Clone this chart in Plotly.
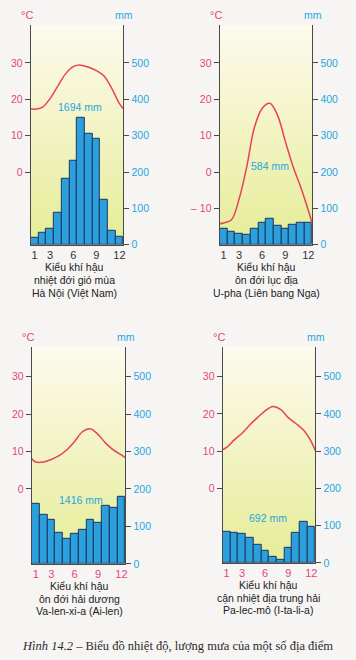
import base64
import plotly.graph_objects as go

# ---------------- data ----------------
months = [1, 2, 3, 4, 5, 6, 7, 8, 9, 10, 11, 12]
month_ticks = [1, 3, 6, 9, 12]

hanoi_rain = [19, 34, 44, 87, 181, 231, 350, 306, 291, 125, 39, 21]
hanoi_temp = [17.3, 17.8, 20.2, 23.6, 27.0, 29.0, 29.4, 28.8, 27.9, 26.4, 23.0, 18.8]
hanoi_temp_edges = [17.4, 17.4]

ufa_rain = [45, 36, 30, 27, 44, 60, 72, 53, 44, 55, 61, 61]
ufa_temp = [-14.0, -13.2, -7.5, 1.4, 12.3, 17.5, 18.9, 15.6, 8.5, 1.6, -4.1, -10.6]
ufa_temp_edges = [-14.2, -14.2]

valentia_rain = [161, 130, 117, 83, 68, 80, 91, 117, 109, 154, 150, 179]
valentia_temp = [7.2, 7.2, 7.9, 8.9, 10.5, 12.7, 15.3, 16.1, 14.6, 12.2, 10.4, 9.1]
valentia_temp_edges = [8.1, 8.4]

palermo_rain = [83, 80, 79, 68, 49, 33, 16, 8, 40, 81, 111, 96]
palermo_temp = [11.0, 13.0, 14.8, 17.0, 19.0, 20.8, 22.0, 21.2, 19.0, 17.4, 15.6, 12.5]
palermo_temp_edges = [10.4, 10.2]

totals = ["1694 mm", "584 mm", "1416 mm", "692 mm"]
captions = [
    ["Kiểu khí hậu", "nhiệt đới gió mùa", "Hà Nội (Việt Nam)"],
    ["Kiểu khí hậu", "ôn đới lục địa", "U-pha (Liên bang Nga)"],
    ["Kiểu khí hậu", "ôn đới hải dương", "Va-len-xi-a (Ai-len)"],
    ["Kiểu khí hậu", "cận nhiệt địa trung hải", "Pa-lec-mô (I-ta-li-a)"],
]
temp_tick_sets = [[0, 10, 20, 30], [-10, 0, 10, 20, 30], [0, 10, 20, 30], [0, 10, 20, 30]]
mm_ticks = [0, 100, 200, 300, 400, 500]
figure_title = "<i>Hình 14.2</i> – Biểu đồ nhiệt độ, lượng mưa của một số địa điểm"

# ---------------- layout geometry (pixels) ----------------
W, H = 356, 660
PINK = "#e5457b"
CYAN = "#25a6df"
LINE = "#ea3f5e"
AXIS = "#4a4a4a"
DARK = "#333333"
FONT = "Liberation Sans, Arial, sans-serif"

panels = [
    dict(x0=31, x1=124, y0=25, y1=247, mmax=605, mcol=DARK, tot=(80, 108), cx=75, cy=[269, 283, 296]),
    dict(x0=221, x1=314, y0=25, y1=247, mmax=605, mcol=DARK, tot=(272, 168), cx=268, cy=[269, 283, 296]),
    dict(x0=32, x1=126, y0=350, y1=569, mmax=580, mcol=PINK, tot=(81, 505), cx=80, cy=[591, 604, 617]),
    dict(x0=224, x1=317, y0=350, y1=568, mmax=580, mcol=PINK, tot=(270, 523), cx=270, cy=[590, 603, 616]),
]
rains = [hanoi_rain, ufa_rain, valentia_rain, palermo_rain]
temps = [hanoi_temp, ufa_temp, valentia_temp, palermo_temp]
edges = [hanoi_temp_edges, ufa_temp_edges, valentia_temp_edges, palermo_temp_edges]

def px(x):
    return x / W

def py(y):
    return 1 - y / H

svg = ("<svg xmlns='http://www.w3.org/2000/svg' width='10' height='100' viewBox='0 0 10 100' "
       "preserveAspectRatio='none'><defs><linearGradient id='g' x1='0' y1='0' x2='0' y2='1'>"
       "<stop offset='0' stop-color='#fcfbee'/><stop offset='0.35' stop-color='#f6f5cf'/>"
       "<stop offset='1' stop-color='#e4ed96'/></linearGradient></defs>"
       "<rect width='10' height='100' fill='url(#g)'/></svg>")
bg_src = "data:image/svg+xml;base64," + base64.b64encode(svg.encode()).decode()

fig = go.Figure()
layout = dict(
    width=W, height=H, margin=dict(l=0, r=0, t=0, b=0),
    paper_bgcolor="#f6f5f3", plot_bgcolor="rgba(0,0,0,0)",
    showlegend=False, bargap=0, font=dict(family=FONT, size=10, color=DARK),
)
images = []
annotations = []

def note(text, x, y, size, color, family=FONT):
    annotations.append(dict(text=text, x=px(x), y=py(y), xref="paper", yref="paper",
                            xanchor="center", yanchor="middle", showarrow=False,
                            font=dict(family=family, size=size, color=color)))

for i, p in enumerate(panels):
    n = i + 1
    xa = "x" if n == 1 else f"x{n}"
    ya_mm = f"y{2 * n - 1}" if n > 1 else "y"
    ya_t = f"y{2 * n}"
    xdom = [px(p["x0"]), px(p["x1"])]
    ydom = [py(p["y1"]), py(p["y0"])]
    mmax = p["mmax"]
    trange = [0 / 10 - 20, mmax / 10 - 20]

    layout["xaxis" if n == 1 else f"xaxis{n}"] = dict(
        domain=xdom, anchor=ya_mm, range=[0.5, 12.5],
        tickvals=month_ticks, ticktext=[str(m) for m in month_ticks],
        ticks="", showgrid=False, zeroline=False,
        showline=True, linecolor=AXIS, linewidth=1,
        tickfont=dict(family=FONT, size=11, color=p["mcol"]),
    )
    layout["yaxis" if n == 1 else f"yaxis{2 * n - 1}"] = dict(
        domain=ydom, anchor=xa, side="right", range=[0, mmax],
        tickvals=mm_ticks, ticks="outside", ticklen=5, tickcolor=AXIS, tickwidth=1,
        showline=True, linecolor=AXIS, linewidth=1.2,
        showgrid=False, zeroline=False,
        tickfont=dict(family=FONT, size=10.5, color=CYAN),
    )
    tt = temp_tick_sets[i]
    layout[f"yaxis{2 * n}"] = dict(
        domain=ydom, anchor=xa, overlaying=ya_mm, side="left", range=trange,
        tickvals=tt, ticktext=[("– " + str(-v)) if v < 0 else str(v) for v in tt],
        ticks="outside", ticklen=5, tickcolor=AXIS, tickwidth=1,
        showline=True, linecolor=AXIS, linewidth=1.2,
        showgrid=False, zeroline=False,
        tickfont=dict(family=FONT, size=10.5, color=PINK),
    )

    images.append(dict(
        source=bg_src, xref="paper", yref="paper",
        x=xdom[0], y=ydom[1], sizex=xdom[1] - xdom[0], sizey=ydom[1] - ydom[0],
        xanchor="left", yanchor="top", sizing="stretch", layer="below",
    ))

    fig.add_trace(go.Bar(
        x=months, y=rains[i], xaxis=xa, yaxis=ya_mm,
        marker=dict(color="#2ba0dc", line=dict(color="#1c3560", width=1)),
        hoverinfo="skip",
    ))
    fig.add_trace(go.Scatter(
        x=[0.5] + months + [12.5], y=[edges[i][0]] + temps[i] + [edges[i][1]],
        xaxis=xa, yaxis=ya_t, mode="lines",
        line=dict(color=LINE, width=1.5, shape="spline", smoothing=1.0),
        hoverinfo="skip",
    ))

    note("°C", p["x0"] - 4, p["y0"] - 10, 11, PINK)
    note("mm", p["x1"] + 1, p["y0"] - 10, 10.5, CYAN)
    note(totals[i], p["tot"][0], p["tot"][1], 10.5, CYAN)
    for line_text, cy in zip(captions[i], p["cy"]):
        note(line_text, p["cx"], cy, 10.5, "#222222")

note(figure_title, 178, 652, 12.5, "#2a2a2a", family="Liberation Serif, Times New Roman, serif")

layout["images"] = images
layout["annotations"] = annotations
fig.update_layout(**layout)
fig.write_html("out.html", config={"displayModeBar": False},
               post_script="document.body.style.margin='0';document.body.style.overflow='hidden';")
